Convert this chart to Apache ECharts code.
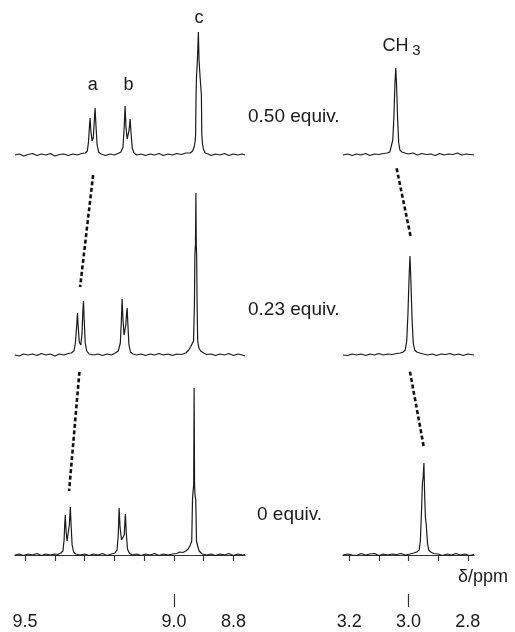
<!DOCTYPE html>
<html>
<head>
<meta charset="utf-8">
<script src="https://cdn.jsdelivr.net/npm/echarts@6/dist/echarts.min.js"></script>
<style>
html, body { margin: 0; background: #fff; }
#main { width: 515px; height: 632px; }
</style>
</head>
<body>
<div id="main"></div>
<script>
// [ppm, intensity above baseline]
var aromatic050 = [[9.534, 0], [9.52, 1], [9.505, -1], [9.49, 0.5], [9.475, 1.5], [9.46, -0.5], [9.445, 1], [9.43, 0], [9.415, 1.5], [9.40, -1], [9.385, 0.5], [9.37, 1], [9.355, -0.5], [9.34, 1], [9.325, 0], [9.31, 1.5], [9.298, 2], [9.291, 4], [9.287, 13], [9.2835, 30], [9.2816, 37], [9.279, 24], [9.275, 14], [9.271, 17], [9.2675, 34], [9.2648, 47], [9.262, 30], [9.258, 10], [9.253, 3], [9.245, 1], [9.23, -0.5], [9.215, 1], [9.20, 0], [9.188, 1.5], [9.178, 3], [9.171, 8], [9.167, 28], [9.164, 49], [9.161, 28], [9.157, 16], [9.1505, 25], [9.147, 36], [9.144, 22], [9.140, 7], [9.134, 2], [9.125, 0], [9.11, 1], [9.095, -0.5], [9.08, 1], [9.065, 0], [9.05, 1.5], [9.035, -0.5], [9.02, 1], [9.005, 0], [8.99, 1.5], [8.975, 0.5], [8.96, 2], [8.945, 2], [8.937, 4], [8.932, 8], [8.929, 13], [8.927, 20], [8.9255, 60], [8.924, 78], [8.921, 95], [8.9177, 123], [8.9155, 95], [8.912, 78], [8.9075, 60], [8.9062, 20], [8.904, 12], [8.901, 6], [8.895, 2], [8.885, 1], [8.875, -0.5], [8.86, 1], [8.845, 0], [8.83, 1.5], [8.815, -0.5], [8.80, 1], [8.785, 0], [8.77, 1], [8.761, 0]];
var aromatic023 = [[9.534, 0], [9.52, -1], [9.505, 1], [9.49, 0], [9.475, 1], [9.46, -0.5], [9.445, 1.5], [9.43, 0], [9.415, 1], [9.40, -1], [9.385, 1], [9.37, 0], [9.355, 1.5], [9.345, 2], [9.336, 4], [9.331, 12], [9.3265, 30], [9.324, 42], [9.3215, 28], [9.318, 13], [9.313, 10], [9.309, 20], [9.3065, 40], [9.304, 54], [9.3015, 36], [9.298, 12], [9.293, 4], [9.285, 1], [9.27, 0], [9.255, 1], [9.24, -0.5], [9.225, 1], [9.21, 0], [9.197, 2], [9.187, 4], [9.180, 12], [9.1765, 35], [9.174, 56], [9.171, 35], [9.1675, 20], [9.165, 22], [9.1615, 30], [9.159, 42], [9.157, 47], [9.1545, 30], [9.151, 10], [9.146, 3], [9.138, 1], [9.125, 0], [9.11, 1], [9.095, -0.5], [9.08, 1], [9.065, 0], [9.05, 1.5], [9.035, 0], [9.02, 1], [9.005, -0.5], [8.99, 1], [8.975, 0.5], [8.96, 2], [8.95, 5], [8.944, 8], [8.938, 9], [8.934, 14], [8.931, 50], [8.9295, 100], [8.9275, 110], [8.926, 162], [8.9248, 110], [8.9235, 100], [8.922, 50], [8.920, 14], [8.916, 7], [8.91, 4], [8.90, 2], [8.89, 0.5], [8.875, 1], [8.86, -0.5], [8.845, 1], [8.83, 0], [8.815, 1.5], [8.80, -0.5], [8.785, 1], [8.77, 0], [8.761, -1]];
var aromatic000 = [[9.534, 0], [9.52, 1], [9.505, -0.5], [9.49, 1], [9.475, 0], [9.46, 1.5], [9.445, -0.5], [9.43, 1], [9.415, 0], [9.40, 1], [9.39, 0.5], [9.38, 2], [9.373, 4], [9.369, 15], [9.367, 30], [9.365, 40], [9.3625, 25], [9.359, 14], [9.355, 13], [9.3515, 30], [9.348, 48], [9.3455, 30], [9.342, 10], [9.337, 3], [9.33, 1], [9.315, 0], [9.30, 1], [9.285, -0.5], [9.27, 1], [9.255, 0], [9.24, 1.5], [9.225, -0.5], [9.21, 1], [9.198, 2], [9.191, 5], [9.187, 20], [9.184, 47], [9.181, 28], [9.176, 15], [9.172, 14], [9.167, 20], [9.163, 41], [9.160, 22], [9.156, 6], [9.150, 2], [9.14, 0], [9.125, 1], [9.11, -0.5], [9.095, 1], [9.08, 0], [9.065, 1.5], [9.05, -0.5], [9.035, 1], [9.02, 0], [9.005, 1], [8.99, 1.5], [8.98, 3], [8.97, 2.5], [8.96, 4], [8.952, 6], [8.945, 10], [8.940, 14], [8.9375, 55], [8.936, 62], [8.9335, 70], [8.932, 167], [8.9305, 70], [8.929, 60], [8.9265, 55], [8.924, 14], [8.920, 9], [8.915, 4], [8.905, 1], [8.89, 0], [8.875, 1], [8.86, -0.5], [8.845, 1], [8.83, 0], [8.815, 1.5], [8.80, -0.5], [8.785, 1], [8.77, 0], [8.761, 0.5]];

var methyl050 = [[3.221, 0], [3.205, 1], [3.19, -0.5], [3.175, 1], [3.16, 0], [3.145, 1.5], [3.13, -0.5], [3.115, 1], [3.10, 0.5], [3.085, 1.5], [3.072, 2], [3.063, 3], [3.057, 5], [3.053, 15], [3.049, 40], [3.046, 70], [3.043, 87], [3.040, 68], [3.037, 38], [3.033, 12], [3.029, 5], [3.022, 3], [3.012, 2], [3.00, 1], [2.985, 2], [2.97, 0], [2.955, 1.5], [2.94, 0.5], [2.925, 1], [2.91, -0.5], [2.895, 1.5], [2.88, 0], [2.865, 1], [2.85, 0.5], [2.835, 2], [2.82, 0], [2.805, 1], [2.779, 0]];
var methyl023 = [[3.221, 0], [3.205, -0.5], [3.19, 1], [3.175, 0], [3.16, 1], [3.145, -0.5], [3.13, 1], [3.115, 0], [3.10, 1.5], [3.085, 0], [3.07, 1], [3.055, 0.5], [3.04, 1.5], [3.028, 2], [3.018, 3], [3.011, 5], [3.006, 14], [3.002, 40], [2.998, 78], [2.995, 99], [2.992, 75], [2.988, 36], [2.984, 12], [2.979, 5], [2.972, 3], [2.962, 2], [2.95, 1], [2.935, 0], [2.92, 1], [2.905, -0.5], [2.89, 1], [2.875, 0.5], [2.86, 1.5], [2.845, 0], [2.83, 1], [2.815, -0.5], [2.80, 1], [2.779, 0]];
var methyl000 = [[3.221, 0], [3.205, 1], [3.19, 0], [3.175, -0.5], [3.16, 1.5], [3.145, 0], [3.13, 1], [3.115, 1.5], [3.10, -0.5], [3.085, 1], [3.07, 0], [3.055, 1], [3.04, 0.5], [3.025, 1.5], [3.01, 0], [2.995, 1], [2.982, 2], [2.972, 3], [2.964, 5], [2.960, 14], [2.956, 45], [2.953, 72], [2.9505, 78], [2.948, 92], [2.9455, 60], [2.943, 38], [2.940, 30], [2.936, 12], [2.932, 5], [2.925, 3], [2.915, 1.5], [2.90, 1], [2.885, -0.5], [2.87, 1], [2.855, 0], [2.84, 1.5], [2.825, 0], [2.81, 1], [2.795, -0.5], [2.779, 0.5]];

// vertical offset of each trace (0 equiv at the bottom)
var offsets = [400, 200, 0];

// dashed guides that follow the shifting peaks [ppm, y]
var guideA1 = [[9.2715, 380], [9.3152, 268]];
var guideA2 = [[9.3175, 183], [9.3522, 64]];
var guideMe1 = [[3.040, 386.7], [2.9916, 316.7]];
var guideMe2 = [[2.995, 183.3], [2.9476, 106.7]];

var leftTicks = [9.5, 9.4, 9.3, 9.2, 9.1, 9.0, 8.9, 8.8];
var leftLabels = [9.5, 9.0, 8.8];
var leftMajor = [9.0];
var rightTicks = [3.2, 3.1, 3.0, 2.9, 2.8];
var rightLabels = [3.2, 3.0, 2.8];
var rightMajor = [3.0];

var FONT = '"Liberation Sans", Arial, sans-serif';
var INK = '#1a1a1a';

function shift (arr, off) {
  return arr.map(function (p) { return [p[0], p[1] + off]; });
}

function trace (arr, off, axis) {
  return {
    type: 'line',
    xAxisIndex: axis,
    yAxisIndex: axis === 0 ? 0 : 1,
    data: shift(arr, off),
    showSymbol: false,
    silent: true,
    lineStyle: { color: INK, width: 1.2 },
    animation: false
  };
}

function guide (arr, axis) {
  return {
    type: 'line',
    xAxisIndex: axis,
    yAxisIndex: axis === 0 ? 0 : 1,
    data: arr,
    showSymbol: false,
    silent: true,
    lineStyle: { color: '#111', width: 2.6, type: [4, 2.5] },
    animation: false
  };
}

function ppmAxis (grid, min, max, ticks, labels, tickLen, showLine) {
  return {
    type: 'value',
    gridIndex: grid,
    position: 'bottom',
    min: min,
    max: max,
    inverse: true,
    splitLine: { show: false },
    axisLine: { show: showLine, lineStyle: { color: '#333', width: 1.2 } },
    axisTick: { show: true, customValues: ticks, length: tickLen, lineStyle: { color: '#333', width: 1.2 } },
    axisLabel: {
      show: labels.length > 0,
      customValues: labels,
      margin: 19,
      fontSize: 18,
      fontFamily: FONT,
      color: INK,
      formatter: function (v) { return v.toFixed(1); }
    }
  };
}

function txt (s, x, y, size, align) {
  return {
    type: 'text',
    style: {
      text: s, x: x, y: y,
      font: size + 'px ' + FONT,
      fill: INK,
      align: align || 'center',
      verticalAlign: 'middle'
    }
  };
}

var myChart = echarts.init(document.getElementById('main'));

var option = {
  backgroundColor: '#fff',
  animation: false,
  grid: [
    { left: 15, width: 230, top: 15, height: 579 },
    { left: 343, width: 131, top: 15, height: 579 }
  ],
  xAxis: [
    ppmAxis(0, 8.761, 9.534, leftTicks, leftLabels, 6, true),
    ppmAxis(0, 8.761, 9.534, leftMajor, [], 13, false),
    ppmAxis(1, 2.779, 3.221, rightTicks, rightLabels, 6, true),
    ppmAxis(1, 2.779, 3.221, rightMajor, [], 13, false)
  ],
  yAxis: [
    { type: 'value', gridIndex: 0, min: -39, max: 540, show: false },
    { type: 'value', gridIndex: 1, min: -39, max: 540, show: false }
  ],
  graphic: [
    txt('a', 92.7, 85.5, 18),
    txt('b', 128.5, 85, 18),
    txt('c', 199, 18.5, 18),
    txt('CH', 395.5, 46.5, 18),
    txt('3', 416.5, 50.5, 15),
    txt('0.50 equiv.', 248, 116.5, 19, 'left'),
    txt('0.23 equiv.', 248, 310, 19, 'left'),
    txt('0 equiv.', 257, 515, 19, 'left'),
    txt('δ/ppm', 458, 577, 18, 'left')
  ],
  series: [
    trace(aromatic050, offsets[0], 0),
    trace(aromatic023, offsets[1], 0),
    trace(aromatic000, offsets[2], 0),
    trace(methyl050, offsets[0], 2),
    trace(methyl023, offsets[1], 2),
    trace(methyl000, offsets[2], 2),
    guide(guideA1, 0),
    guide(guideA2, 0),
    guide(guideMe1, 2),
    guide(guideMe2, 2)
  ]
};

// 绘制图表
myChart.setOption(option);
</script>
</body>
</html>
